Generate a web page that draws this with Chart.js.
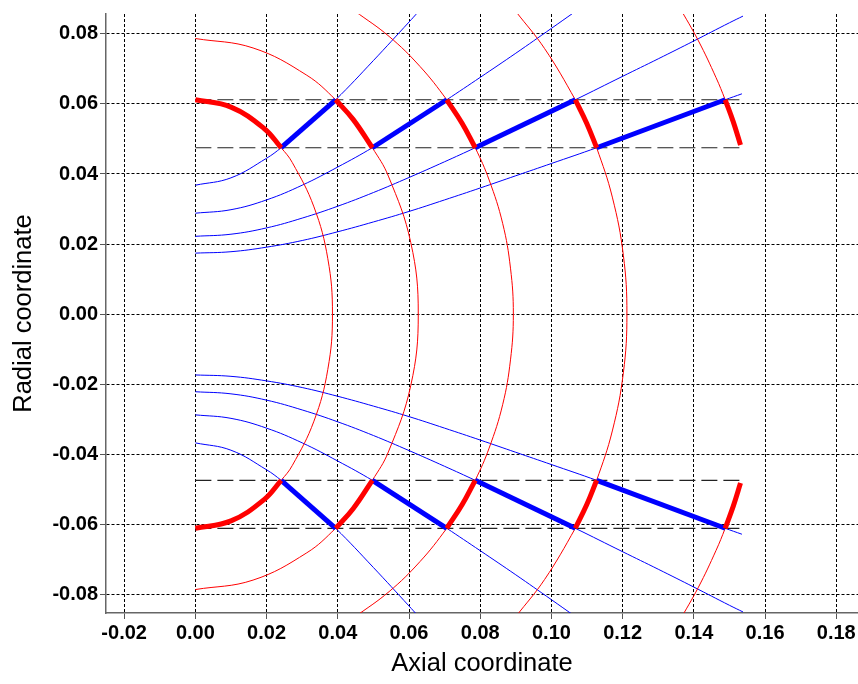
<!DOCTYPE html>
<html>
<head>
<meta charset="utf-8">
<script src="https://cdn.jsdelivr.net/npm/chart.js@4.4.1/dist/chart.umd.min.js"></script>
<style>
  html, body { margin: 0; padding: 0; background: #fff; }
  #wrap { width: 858px; height: 684px; }
</style>
</head>
<body>
<div id="wrap"><canvas id="chart" width="858" height="684"></canvas></div>
<script>
/* ===== Characteristics net (upper half, lower half is its mirror) ===== */

const xTickValues = [-0.02, 0.00, 0.02, 0.04, 0.06, 0.08, 0.10, 0.12, 0.14, 0.16, 0.18];
const yTickValues = [-0.08, -0.06, -0.04, -0.02, 0.00, 0.02, 0.04, 0.06, 0.08];
const X_MIN = -0.0251, X_MAX = 0.1861;
const Y_MIN = -0.0854, Y_MAX = 0.0857;

// red fronts, top half down to the axis
const redArc0 = [[0, 0.0612], [0.0100, 0.0591], [0.0193, 0.0530], [0.0241, 0.0475], [0.0272, 0.0433],
                 [0.0333, 0.0306], [0.0372, 0.0158], [0.0385, 0]];
const redArc1 = [[0, 0.0787], [0.0162, 0.0760], [0.0313, 0.0682], [0.0394, 0.0612], [0.0443, 0.0556],
                 [0.0497, 0.0475], [0.0542, 0.0394], [0.0605, 0.0204], [0.0626, 0]];
const redArc2 = [[0.0447, 0.0866], [0.0544, 0.0793], [0.0631, 0.0707], [0.0706, 0.0612], [0.0749, 0.0545],
                 [0.0786, 0.0475], [0.0825, 0.0383], [0.0863, 0.0259], [0.0885, 0.0131], [0.0893, 0]];
const redArc3 = [[0.0901, 0.0863], [0.0981, 0.0758], [0.1067, 0.0612], [0.1099, 0.0545], [0.1127, 0.0475],
                 [0.1171, 0.0334], [0.1202, 0.0168], [0.1212, 0]];
const redArc4 = [[0.1357, 0.0881], [0.1413, 0.0780], [0.1462, 0.0676], [0.1488, 0.0612], [0.1511, 0.0548],
                 [0.1531, 0.0483]];

// blue characteristics, top half
const blueLine1 = [[0, 0.0368], [0.0100, 0.0389], [0.0200, 0.0445], [0.0241, 0.0475], [0.0300, 0.0525],
                   [0.0394, 0.0612], [0.0500, 0.0724], [0.0600, 0.0834], [0.0625, 0.0862]];
const blueLine2 = [[0, 0.0288], [0.0100, 0.0298], [0.0200, 0.0326], [0.0300, 0.0368], [0.0400, 0.0420],
                   [0.0497, 0.0475], [0.0600, 0.0541], [0.0706, 0.0612], [0.0800, 0.0676], [0.0900, 0.0745],
                   [0.1000, 0.0816], [0.1060, 0.0859]];
const blueLine3 = [[0, 0.0222], [0.0100, 0.0228], [0.0200, 0.0246], [0.0300, 0.0274], [0.0400, 0.0308],
                   [0.0500, 0.0347], [0.0600, 0.0390], [0.0700, 0.0435], [0.0786, 0.0475], [0.0900, 0.0530],
                   [0.1067, 0.0612], [0.1200, 0.0679], [0.1300, 0.0729], [0.1400, 0.0780], [0.1500, 0.0832],
                   [0.1538, 0.0851]];
const blueLine4 = [[0, 0.0174], [0.0100, 0.0178], [0.0200, 0.0191], [0.0300, 0.0210], [0.0400, 0.0235],
                   [0.0500, 0.0263], [0.0600, 0.0293], [0.0700, 0.0326], [0.0800, 0.0360], [0.0900, 0.0395],
                   [0.1000, 0.0430], [0.1127, 0.0475], [0.1300, 0.0540], [0.1488, 0.0612], [0.1535, 0.0629]];

// highlighted path (thick), top half
const thickRed = [
  [[0, 0.0612], [0.0100, 0.0591], [0.0193, 0.0530], [0.0241, 0.0475]],
  [[0.0394, 0.0612], [0.0443, 0.0556], [0.0497, 0.0475]],
  [[0.0706, 0.0612], [0.0749, 0.0545], [0.0786, 0.0475]],
  [[0.1067, 0.0612], [0.1099, 0.0545], [0.1127, 0.0475]],
  [[0.1488, 0.0612], [0.1511, 0.0548], [0.1531, 0.0483]]
];
const thickBlue = [
  [[0.0241, 0.0475], [0.0394, 0.0612]],
  [[0.0497, 0.0475], [0.0706, 0.0612]],
  [[0.0786, 0.0475], [0.1067, 0.0612]],
  [[0.1127, 0.0475], [0.1488, 0.0612]]
];

// dashed bounds
const dashLevels = [0.0612, 0.0475, -0.0475, -0.0612];
const dashFrom = 0, dashTo = 0.1535;

const RED = 'rgb(255,0,0)';
const BLUE = 'rgb(0,0,255)';

const flip = a => a.map(([x, y]) => [x, -y]);
const fullArc = a => a.concat(flip(a.slice(0, -1)).reverse());
const toPts = a => a.map(([x, y]) => ({ x, y }));

function line(pts, color, width, order, extra) {
  return Object.assign({
    data: toPts(pts),
    showLine: true,
    borderColor: color,
    backgroundColor: color,
    borderWidth: width,
    pointRadius: 0,
    pointHoverRadius: 0,
    tension: 0.4,
    fill: false,
    order: order
  }, extra || {});
}

const datasets = [];

// thick path on top
thickRed.forEach(seg => {
  datasets.push(line(seg, RED, 5, 0));
  datasets.push(line(flip(seg), RED, 5, 0));
});
thickBlue.forEach(seg => {
  datasets.push(line(seg, BLUE, 5, 0, { tension: 0 }));
  datasets.push(line(flip(seg), BLUE, 5, 0, { tension: 0 }));
});

// dashed horizontals
dashLevels.forEach(y => {
  datasets.push(line([[dashFrom, y], [dashTo, y]], '#222', 1.2, 1, { tension: 0, borderDash: [16, 6] }));
});

// thin curves
[redArc0, redArc1, redArc2, redArc3].forEach(a => datasets.push(line(fullArc(a), RED, 1, 2)));
datasets.push(line(redArc4, RED, 1, 2));
datasets.push(line(flip(redArc4), RED, 1, 2));
[blueLine1, blueLine2, blueLine3, blueLine4].forEach(a => {
  datasets.push(line(a, BLUE, 1, 2));
  datasets.push(line(flip(a), BLUE, 1, 2));
});

const fmt = v => (Math.abs(v) < 1e-9 ? 0 : v).toFixed(2);
const tickFont = { family: '"Liberation Sans", Arial, sans-serif', size: 20, weight: 'bold' };
const titleFont = { family: '"Liberation Sans", Arial, sans-serif', size: 25.5, weight: 'normal' };

new Chart(document.getElementById('chart').getContext('2d'), {
  type: 'scatter',
  data: { datasets: datasets },
  options: {
    responsive: false,
    animation: false,
    devicePixelRatio: 1,
    layout: { padding: { top: 8, right: 0, bottom: 0, left: 0 } },
    plugins: { legend: { display: false }, tooltip: { enabled: false } },
    scales: {
      x: {
        type: 'linear',
        min: X_MIN,
        max: X_MAX,
        afterBuildTicks: s => { s.ticks = xTickValues.map(v => ({ value: v })); },
        afterFit: s => { s.height = 71; },
        ticks: { callback: fmt, font: tickFont, color: '#000', padding: 2, maxRotation: 0, autoSkip: false },
        grid: { color: '#000', lineWidth: 1, tickLength: 6, tickColor: '#555', tickBorderDash: [] },
        border: { color: '#666', width: 1.5, dash: [3, 2] },
        title: { display: true, text: 'Axial coordinate', font: titleFont, color: '#000', padding: { top: 0, bottom: 5 } }
      },
      y: {
        type: 'linear',
        min: Y_MIN,
        max: Y_MAX,
        afterBuildTicks: s => { s.ticks = yTickValues.map(v => ({ value: v })); },
        afterFit: s => { s.width = 106; },
        ticks: { callback: fmt, font: tickFont, color: '#000', padding: 2, autoSkip: false },
        grid: { color: '#000', lineWidth: 1, tickLength: 6, tickColor: '#555', tickBorderDash: [] },
        border: { color: '#666', width: 1.5, dash: [3, 2] },
        title: { display: true, text: 'Radial coordinate', font: titleFont, color: '#000', padding: { top: 9, bottom: 0 } }
      }
    }
  }
});
</script>
</body>
</html>
